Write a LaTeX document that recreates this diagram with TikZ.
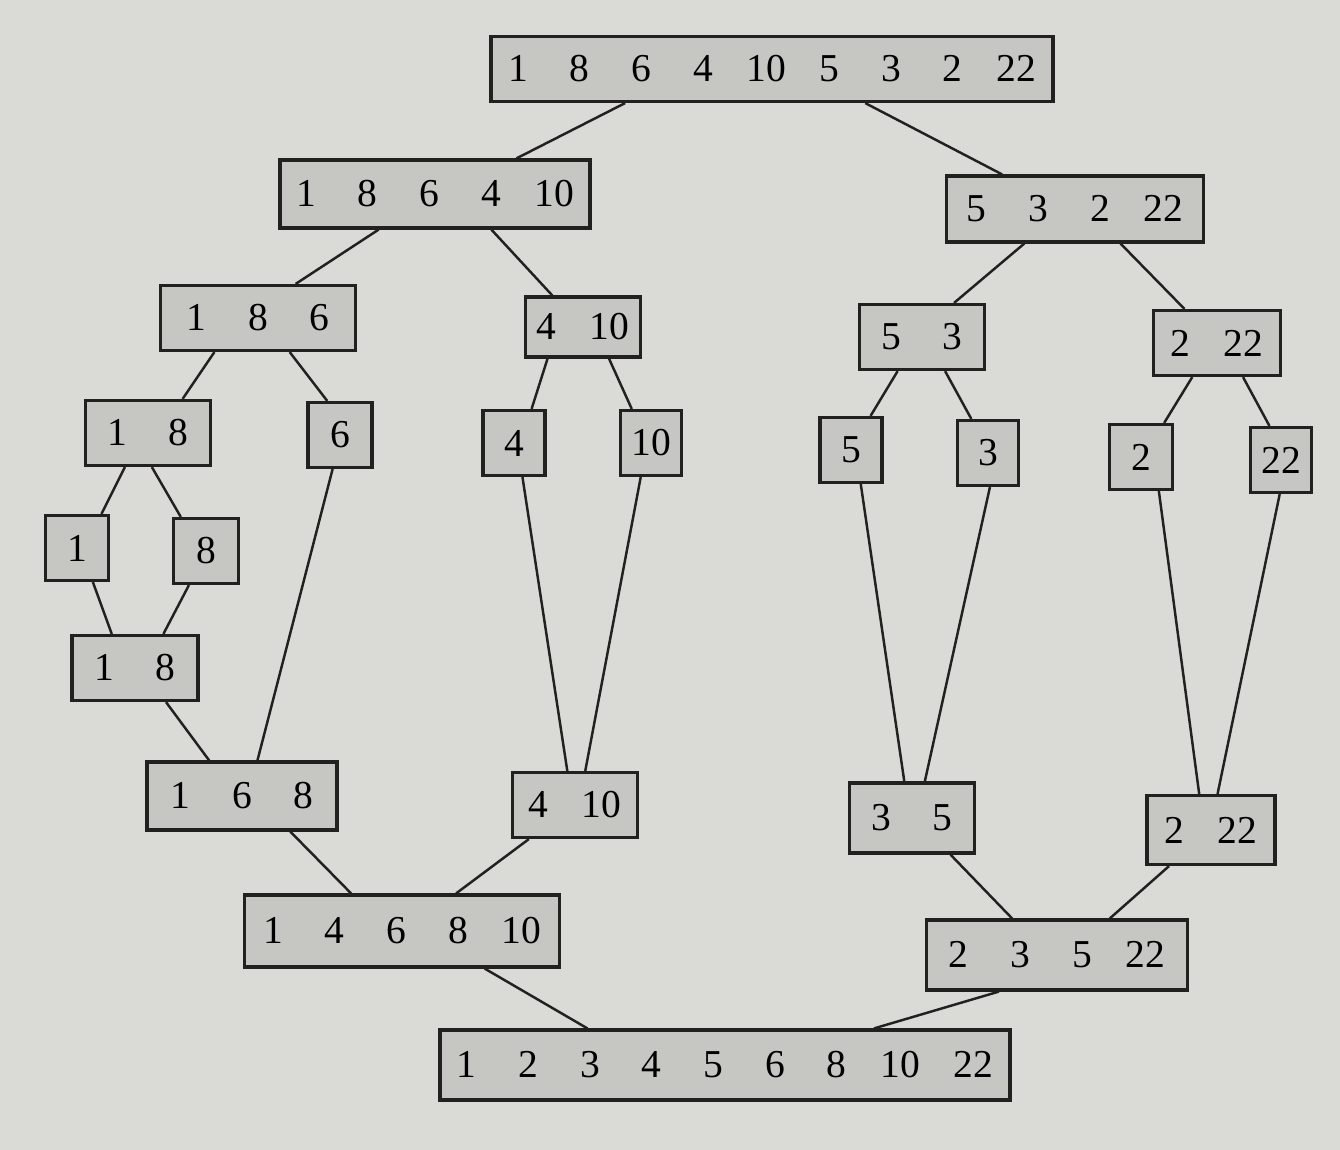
\documentclass[tikz,border=0pt]{standalone}
\usepackage{fontspec}
\setmainfont{Liberation Serif}
\usepackage{xcolor}
\usetikzlibrary{calc}

\definecolor{page}{RGB}{218,218,214}
\definecolor{cellgray}{RGB}{198,198,195}
\definecolor{ink}{RGB}{35,32,32}

\newcommand{\g}{\hspace{1.06em}}
\newcommand{\gn}{\hspace{0.85em}}% next to a two-digit number
% line from the bottom of one box to the top of another (fractions of the width)
\newcommand{\joinbox}[4]{\draw[wire] ($(#1.south west)!#2!(#1.south east)$) -- ($(#3.north west)!#4!(#3.north east)$);}

\begin{document}
\begin{tikzpicture}[x=0.02cm, y=-0.02cm]
        \tikzset{cell/.style={draw=ink, fill=cellgray, line width=1.8pt, inner sep=0pt,
                              minimum height=1.3cm, font=\fontsize{22.5}{26}\selectfont},
                 wire/.style={draw=ink, line width=1.4pt}}
        \fill[page] (0,0) rectangle (1340,1150);
        \useasboundingbox (0,0) rectangle (1340,1150);

        % splitting
        \node[cell, minimum width=11.24cm] (all) at (772,69) {1\g 8\g 6\g 4\gn 10\gn 5\g 3\g 2\gn 22};
        \node[cell, minimum width=6.2cm, minimum height=1.36cm] (a) at (435,194) {1\g 8\g 6\g 4\gn 10};
        \node[cell, minimum width=5.14cm, minimum height=1.32cm] (b) at (1075,209) {5\g 3\g 2\gn 22};

        \node[cell, minimum width=3.9cm] (a1) at (258,318) {1\g 8\g 6};
        \node[cell, minimum width=2.3cm, minimum height=1.2cm] (a2) at (583,327) {4\gn 10};
        \node[cell, minimum width=2.5cm] (b1) at (922,337) {5\g 3};
        \node[cell, minimum width=2.54cm] (b2) at (1217,343) {2\gn 22};

        \node[cell, minimum width=2.5cm] (a11) at (148,433) {1\g 8};
        \node[cell, minimum width=1.28cm] (a12) at (340,435) {6};
        \node[cell, minimum width=1.24cm] (a21) at (514,443) {4};
        \node[cell, minimum width=1.22cm] (a22) at (651,443) {10};
        \node[cell, minimum width=1.24cm] (b11) at (851,450) {5};
        \node[cell, minimum width=1.22cm] (b12) at (988,453) {3};
        \node[cell, minimum width=1.26cm] (b21) at (1141,457) {2};
        \node[cell, minimum width=1.22cm] (b22) at (1281,460) {22};

        \node[cell, minimum width=1.26cm] (a111) at (77,548) {1};
        \node[cell, minimum width=1.3cm] (a112) at (206,551) {8};

        % merging
        \node[cell, minimum width=2.52cm] (m11) at (135,668) {1\g 8};
        \node[cell, minimum width=3.8cm, minimum height=1.36cm] (m1) at (242,796) {1\g 6\g 8};
        \node[cell, minimum width=2.5cm] (m2) at (575,805) {4\gn 10};
        \node[cell, minimum width=2.5cm, minimum height=1.4cm] (m3) at (912,818) {3\g 5};
        \node[cell, minimum width=2.56cm, minimum height=1.38cm] (m4) at (1211,830) {2\gn 22};

        \node[cell, minimum width=6.3cm, minimum height=1.44cm] (ma) at (402,931) {1\g 4\g 6\g 8\gn 10};
        \node[cell, minimum width=5.22cm, minimum height=1.4cm] (mb) at (1057,955) {2\g 3\g 5\gn 22};

        \node[cell, minimum width=11.4cm, minimum height=1.4cm] (sorted) at (725,1065) {1\g 2\g 3\g 4\g 5\g 6\g 8\gn 10\gn 22};

        \joinbox{all}{0.24}{a}{0.76}
        \joinbox{all}{0.665}{b}{0.22}

        \joinbox{a}{0.32}{a1}{0.69}
        \joinbox{a}{0.68}{a2}{0.24}
        \joinbox{b}{0.305}{b1}{0.75}
        \joinbox{b}{0.675}{b2}{0.25}

        \joinbox{a1}{0.28}{a11}{0.77}
        \joinbox{a1}{0.66}{a12}{0.31}
        \joinbox{a2}{0.2}{a21}{0.77}
        \joinbox{a2}{0.72}{a22}{0.2}
        \joinbox{b1}{0.31}{b11}{0.8}
        \joinbox{b1}{0.68}{b12}{0.24}
        \joinbox{b2}{0.31}{b21}{0.85}
        \joinbox{b2}{0.7}{b22}{0.32}

        \joinbox{a11}{0.32}{a111}{0.87}
        \joinbox{a11}{0.53}{a112}{0.13}

        \joinbox{a111}{0.74}{m11}{0.32}
        \joinbox{a112}{0.25}{m11}{0.72}
        \joinbox{m11}{0.74}{m1}{0.33}
        \joinbox{a12}{0.39}{m1}{0.58}
        \joinbox{a21}{0.63}{m2}{0.44}
        \joinbox{a22}{0.34}{m2}{0.58}
        \joinbox{b11}{0.65}{m3}{0.44}
        \joinbox{b12}{0.53}{m3}{0.6}
        \joinbox{b21}{0.77}{m4}{0.41}
        \joinbox{b22}{0.48}{m4}{0.55}

        \joinbox{m1}{0.75}{ma}{0.34}
        \joinbox{m2}{0.14}{ma}{0.67}
        \joinbox{m3}{0.8}{mb}{0.33}
        \joinbox{m4}{0.18}{mb}{0.7}

        \joinbox{ma}{0.76}{sorted}{0.26}
        \joinbox{mb}{0.28}{sorted}{0.76}
    \end{tikzpicture}
\end{document}
